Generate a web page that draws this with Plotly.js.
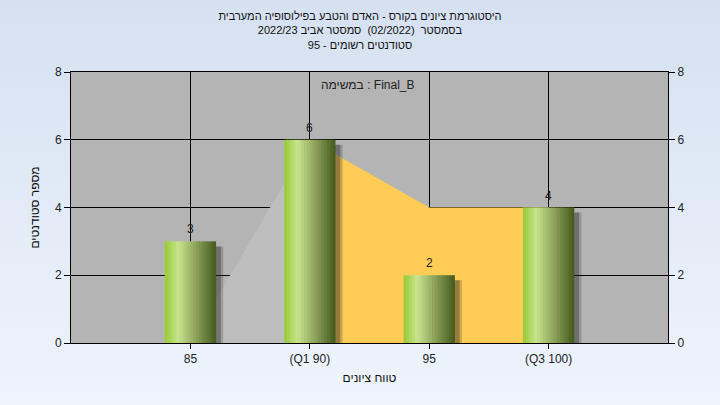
<!DOCTYPE html>
<html>
<head>
<meta charset="utf-8">
<script src="https://cdn.plot.ly/plotly-3.0.1.min.js"></script>
<style>
  html, body { margin: 0; padding: 0; }
  body { width: 720px; height: 405px; background: linear-gradient(to bottom, #d5e1f1, #eef4fc); }
  #chart { width: 720px; height: 405px; }
</style>
</head>
<body>
<div id="chart"></div>
<script>
// ---- data ----
const categories = ['85', '(Q1 90)', '95', '(Q3 100)'];
const counts = [3, 6, 2, 4];
const areaValues = [0, 6, 4, 4];
const yTicks = [0, 2, 4, 6, 8];
const titleLines = [
  'היסטוגרמת ציונים בקורס - האדם והטבע בפילוסופיה המערבית',
  'בסמסטר  (02/2022)  סמסטר אביב 2022/23',
  'סטודנטים רשומים - 95'
];
const taskLabel = 'במשימה : Final_B';
const xTitle = 'טווח ציונים';
const yTitle = 'מספר סטודנטים';

// ---- style ----
const FONT = '"Liberation Sans", Arial, sans-serif';
const barWidth = 0.43;
const strips = 18;
const gradStops = [
  [0.0, [156, 205, 62]],
  [0.25, [200, 228, 142]],
  [0.55, [152, 173, 100]],
  [1.0, [72, 94, 32]]
];
function gradColor(t) {
  for (let k = 0; k < gradStops.length - 1; k++) {
    const [t0, c0] = gradStops[k], [t1, c1] = gradStops[k + 1];
    if (t >= t0 && t <= t1) {
      const f = (t - t0) / (t1 - t0);
      const c = c0.map((v, j) => Math.round(v + (c1[j] - v) * f));
      return 'rgb(' + c.join(',') + ')';
    }
  }
  return 'rgb(' + gradStops[gradStops.length - 1][1].join(',') + ')';
}

const traces = [];
// areas (main subplot, below bars)
traces.push({
  type: 'scatter', x: categories.slice(0, 2), y: areaValues.slice(0, 2),
  mode: 'lines', fill: 'tozeroy', fillcolor: '#bebebe',
  line: { width: 0, color: '#bebebe' }, hoverinfo: 'skip', showlegend: false,
  xaxis: 'x', yaxis: 'y'
});
traces.push({
  type: 'scatter', x: categories.slice(1), y: areaValues.slice(1),
  mode: 'lines', fill: 'tozeroy', fillcolor: '#ffcc55',
  line: { width: 0, color: '#ffcc55' }, hoverinfo: 'skip', showlegend: false,
  xaxis: 'x', yaxis: 'y'
});
// soft shadow (two layers)
[[0.06, 'rgba(40,40,40,0.22)'], [0.04, 'rgba(40,40,40,0.35)']].forEach(([dx, col]) => {
  traces.push({
    type: 'bar', x: categories, y: counts, base: -0.15,
    width: barWidth, offset: -barWidth / 2 + dx,
    marker: { color: col, line: { width: 0 } },
    hoverinfo: 'skip', showlegend: false, xaxis: 'x', yaxis: 'y2'
  });
});
// gradient strips
const sw = barWidth / strips;
for (let i = 0; i < strips; i++) {
  traces.push({
    type: 'bar', x: categories, y: counts,
    width: i === strips - 1 ? sw : sw * 1.25,
    offset: -barWidth / 2 + i * sw,
    marker: { color: gradColor(i / (strips - 1)), line: { width: 0 } },
    hoverinfo: 'skip', showlegend: false, xaxis: 'x', yaxis: 'y2'
  });
}

const W = 720, H = 405, mL = 71, mR = 52, mT = 72, mB = 62;
const plotH = H - mT - mB, plotW = W - mL - mR;

// value labels above bars (x given as category index)
const annotations = categories.map((c, i) => ({
  text: String(counts[i]), xref: 'x', yref: 'y2', x: i, y: counts[i],
  xanchor: 'center', yanchor: 'bottom', yshift: 3, showarrow: false,
  font: { family: FONT, size: 12, color: '#1a1a1a' }
}));
annotations.push({
  text: taskLabel, xref: 'paper', yref: 'paper',
  x: (368 - mL) / plotW, y: (H - mB - 85) / plotH,
  xanchor: 'center', yanchor: 'middle', showarrow: false,
  font: { family: FONT, size: 12, color: '#222' }
});

const axisCommon = {
  range: [0, 8], tickvals: yTicks, ticks: 'outside', ticklen: 6,
  tickcolor: '#000', showline: true, linecolor: '#000', linewidth: 1,
  zeroline: false, tickfont: { family: FONT, size: 12, color: '#222' }, fixedrange: true
};

const layout = {
  width: W, height: H,
  margin: { l: mL, r: mR, t: mT, b: mB, pad: 0 },
  paper_bgcolor: 'rgba(0,0,0,0)', plot_bgcolor: '#b4b4b4',
  barmode: 'overlay', showlegend: false,
  font: { family: FONT, size: 12, color: '#222' },
  title: {
    text: titleLines.join('<br>'), x: 0.5, xanchor: 'center',
    y: 1 - 20 / H, yanchor: 'top', yref: 'container',
    font: { family: FONT, size: 11, color: '#111' }
  },
  xaxis: {
    type: 'category', categoryorder: 'array', categoryarray: categories,
    range: [-1, 4], showgrid: true, gridcolor: '#000', gridwidth: 1,
    ticks: 'outside', ticklen: 5, tickcolor: '#000',
    showline: true, mirror: true, linecolor: '#000', linewidth: 1,
    tickfont: { family: FONT, size: 12, color: '#222' },
    title: { text: xTitle, standoff: 8, font: { family: FONT, size: 12, color: '#111' } },
    fixedrange: true
  },
  yaxis: Object.assign({}, axisCommon, {
    side: 'left', showgrid: true, gridcolor: '#000', gridwidth: 1,
    title: { text: yTitle, standoff: 12, font: { family: FONT, size: 12, color: '#111' } }
  }),
  yaxis2: Object.assign({}, axisCommon, {
    side: 'right', overlaying: 'y', showgrid: false
  }),
  annotations: annotations
};

Plotly.newPlot('chart', traces, layout, { displayModeBar: false, staticPlot: true });
</script>
</body>
</html>
